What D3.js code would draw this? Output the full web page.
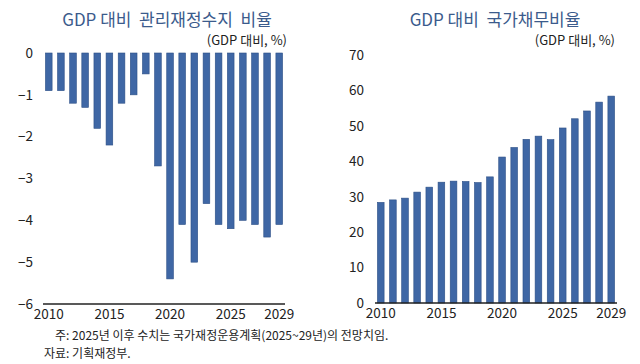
<!DOCTYPE html>
<html>
<head>
<meta charset="utf-8">
<script src="https://cdn.jsdelivr.net/npm/d3@7"></script>
<style>
  body { margin: 0; background: #fff; }
  svg text { font-family: "Noto Sans CJK KR", "Noto Sans", sans-serif; }
</style>
</head>
<body>
<div id="container"></div>
<script>
/* DATA */
const years = d3.range(2010, 2030)
const tickYears = [2010, 2015, 2020, 2025, 2029]
const balance = [-0.9, -0.9, -1.2, -1.3, -1.8, -2.2, -1.2, -1.0, -0.5, -2.7,
  -5.4, -4.1, -5.0, -3.6, -4.1, -4.2, -4.0, -4.1, -4.4, -4.1]
const debt = [28.4, 29.1, 29.6, 31.3, 32.7, 34.1, 34.4, 34.3, 34.0, 35.6,
  41.2, 43.9, 46.2, 47.1, 46.1, 49.4, 52.0, 54.2, 56.7, 58.4]
const balanceTicks = [0, -1, -2, -3, -4, -5, -6]
const debtTicks = [0, 10, 20, 30, 40, 50, 60, 70]
const titles = ["GDP 대비  관리재정수지  비율", "GDP 대비  국가채무비율"]
const unitLabel = "(GDP 대비, %)"
const notes = ["주: 2025년 이후 수치는 국가재정운용계획(2025~29년)의 전망치임.", "자료: 기획재정부."]

/* CONSTANTS */
const width = 640, height = 364
const barColor = "#3f67a5", barEdge = "#2c4f86", titleColor = "#3b5b8c"

const svg = d3.select("#container")
  .append("svg")
  .attr("width", width)
  .attr("height", height)

function drawPanel(opts) {
  const x = d3.scaleBand()
    .domain(years)
    .range(opts.xRange)
    .paddingInner(0.45)
    .paddingOuter(0.2)

  const y = d3.scaleLinear()
    .domain(opts.domain)
    .range([opts.yBottom, opts.yTop])

  const g = svg.append("g")

  // title + unit
  g.append("text")
    .attr("x", opts.titleX).attr("y", 26)
    .attr("text-anchor", "middle")
    .attr("font-size", 17)
    .attr("fill", titleColor)
    .style("white-space", "pre")
    .text(opts.title)

  g.append("text")
    .attr("x", opts.unitX).attr("y", 45)
    .attr("text-anchor", "end")
    .attr("font-size", 13)
    .attr("fill", "#222")
    .text(unitLabel)

  // bars
  g.selectAll("rect.bar")
    .data(opts.values)
    .join("rect")
    .attr("class", "bar")
    .attr("x", (d, i) => x(years[i]))
    .attr("width", x.bandwidth())
    .attr("y", d => y(Math.max(0, d)))
    .attr("height", d => Math.abs(y(d) - y(0)))
    .attr("fill", barColor)
    .attr("stroke", barEdge)
    .attr("stroke-width", 0.6)

  // y labels (no axis line)
  const yAxis = d3.axisLeft(y).tickValues(opts.ticks).tickSize(0).tickPadding(0)
    .tickFormat(d3.format("d"))
  const ya = g.append("g")
    .attr("transform", `translate(${opts.yLabelX},0)`)
    .call(yAxis)
  ya.select(".domain").remove()
  ya.selectAll("text").attr("font-size", 13.5).attr("fill", "#222")
    .attr("font-family", "'Noto Sans', sans-serif")

  // baseline
  g.append("line")
    .attr("x1", opts.xRange[0]).attr("x2", opts.xRange[1])
    .attr("y1", opts.yBottom).attr("y2", opts.yBottom)
    .attr("stroke", "#222").attr("stroke-width", 1.5)

  // x labels
  const xa = g.append("g")
    .attr("transform", `translate(0,${opts.yBottom})`)
    .call(d3.axisBottom(x).tickValues(tickYears).tickSize(0).tickPadding(5))
  xa.select(".domain").remove()
  xa.selectAll("text").attr("font-size", 13.5).attr("fill", "#222")
    .attr("font-family", "'Noto Sans', sans-serif")
}

drawPanel({
  values: balance, domain: [-6, 0], ticks: balanceTicks,
  xRange: [43, 285], yTop: 53, yBottom: 304, yLabelX: 33,
  title: titles[0], titleX: 167, unitX: 287
})

drawPanel({
  values: debt, domain: [0, 70], ticks: debtTicks,
  xRange: [375, 617], yTop: 55, yBottom: 303, yLabelX: 364,
  title: titles[1], titleX: 495, unitX: 615
})

// notes
svg.append("text")
  .attr("x", 55).attr("y", 340)
  .attr("font-size", 12).attr("fill", "#222")
  .text(notes[0])
svg.append("text")
  .attr("x", 44).attr("y", 358)
  .attr("font-size", 12).attr("fill", "#222")
  .text(notes[1])
</script>
</body>
</html>
